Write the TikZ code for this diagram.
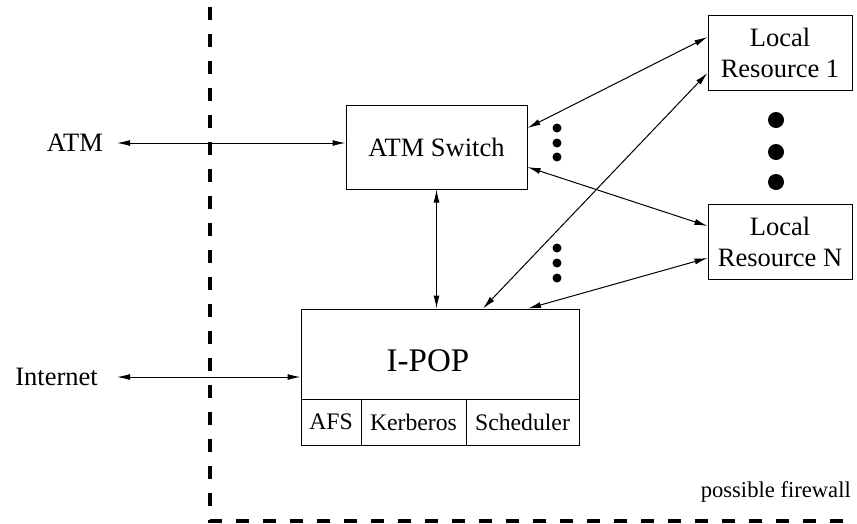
\documentclass[tikz,border=0pt]{standalone}
\usepackage{fontspec}
\setmainfont{Liberation Serif}
\usetikzlibrary{arrows.meta}
\begin{document}
\begin{tikzpicture}[x=1pt,y=-1pt,
  box/.style={draw,line width=1pt,rectangle,inner sep=0pt,align=center},
  big/.style={font=\fontsize{26.5}{31}\selectfont},
  small/.style={font=\fontsize{23.7}{28}\selectfont},
  lbl/.style={inner sep=0pt,font=\fontsize{26.5}{31}\selectfont},
  conn/.style={line width=1pt,{Latex[length=13pt,width=6pt]}-{Latex[length=13pt,width=6pt]}},
  fw/.style={line width=3.5pt,dash pattern=on 13pt off 14pt,dash phase=20pt}]
\useasboundingbox (0,0) rectangle (857,523);
% firewall
\draw[fw] (210,0) -- (210,521) -- (857,521);
\node[inner sep=0pt,anchor=base east,font=\fontsize{22.6}{27}\selectfont] (fwl) at (851,497) {possible firewall};
% boxes
\node[box,big,minimum width=181pt,minimum height=84pt] (sw) at (436.5,147) {ATM Switch};
\node[box,minimum width=278pt,minimum height=90pt] (ipop) at (440,354) {};
\node[inner sep=0pt,anchor=base,font=\fontsize{33}{38}\selectfont] (ipopl) at (428,371) {I-POP};
\node[box,small,minimum width=60pt,minimum height=46pt] (afs) at (331,422) {AFS};
\node[box,small,minimum width=105pt,minimum height=46pt] (kerb) at (413.5,422) {Kerberos};
\node[box,small,minimum width=113pt,minimum height=46pt] (sched) at (522.5,422) {Scheduler};
\node[box,big,minimum width=144pt,minimum height=75pt] (l1) at (780,52.5) {Local\\Resource 1};
\node[box,big,minimum width=144pt,minimum height=75pt] (ln) at (780,241.5) {Local\\Resource N};
% labels
\node[lbl,anchor=east] (atm) at (103,143) {ATM};
\node[lbl,anchor=east] (inet) at (98,377) {Internet};
% connectors
\draw[conn] ([xshift=14pt]atm.east) -- (atm.east -| sw.west);
\draw[conn] ([xshift=19pt]inet.east) -- (inet.east -| ipop.west);
\draw[conn] (sw.south) -- (sw.south |- ipop.north);
\draw[conn] ([yshift=19pt]sw.east) -- ([yshift=15.5pt]l1.west);
\draw[conn] ([yshift=-20pt]sw.east) -- ([yshift=15.5pt]ln.west);
\draw[conn] ([xshift=43pt]ipop.north) -- ([yshift=-20.5pt]l1.west);
\draw[conn] ([xshift=88pt]ipop.north) -- ([yshift=-16.5pt]ln.west);
% dots
\foreach \y in {120,152,182} \fill (776,\y) circle (8pt);
\foreach \y in {128,143,157,248,263,278} \fill (557,\y) circle (4.5pt);
\end{tikzpicture}
\end{document}
